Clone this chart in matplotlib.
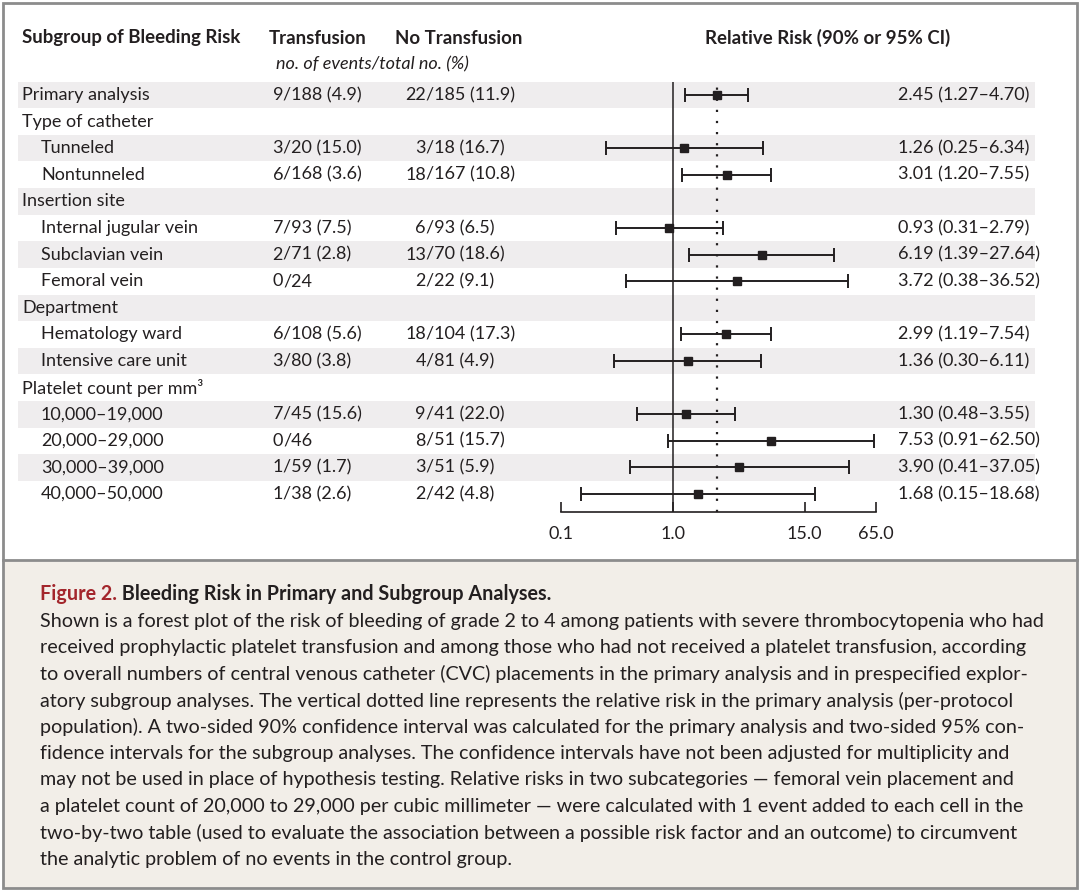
import numpy as np
import matplotlib.pyplot as plt
from matplotlib.patches import Rectangle

plt.rcParams['font.family'] = ['Lato', 'DejaVu Sans']

# rows of the forest plot
labels = ["Primary analysis", "Type of catheter", "Tunneled", "Nontunneled",
          "Insertion site", "Internal jugular vein", "Subclavian vein", "Femoral vein",
          "Department", "Hematology ward", "Intensive care unit",
          "Platelet count per mm³", "10,000–19,000", "20,000–29,000",
          "30,000–39,000", "40,000–50,000"]
indent = [0, 0, 1, 1, 0, 1, 1, 1, 0, 1, 1, 0, 1, 1, 1, 1]
transfusion = ["9/188 (4.9)", "", "3/20 (15.0)", "6/168 (3.6)", "", "7/93 (7.5)",
               "2/71 (2.8)", "0/24", "", "6/108 (5.6)", "3/80 (3.8)", "",
               "7/45 (15.6)", "0/46", "1/59 (1.7)", "1/38 (2.6)"]
no_transfusion = ["22/185 (11.9)", "", "3/18 (16.7)", "18/167 (10.8)", "", "6/93 (6.5)",
                  "13/70 (18.6)", "2/22 (9.1)", "", "18/104 (17.3)", "4/81 (4.9)", "",
                  "9/41 (22.0)", "8/51 (15.7)", "3/51 (5.9)", "2/42 (4.8)"]
nan = np.nan
rr = np.array([2.45, nan, 1.26, 3.01, nan, 0.93, 6.19, 3.72, nan, 2.99, 1.36, nan,
               1.30, 7.53, 3.90, 1.68])
lo = np.array([1.27, nan, 0.25, 1.20, nan, 0.31, 1.39, 0.38, nan, 1.19, 0.30, nan,
               0.48, 0.91, 0.41, 0.15])
hi = np.array([4.70, nan, 6.34, 7.55, nan, 2.79, 27.64, 36.52, nan, 7.54, 6.11, nan,
               3.55, 62.50, 37.05, 18.68])
ticks = [0.1, 1.0, 15.0, 65.0]
tick_labels = ["0.1", "1.0", "15.0", "65.0"]

caption_lines = [
    "Shown is a forest plot of the risk of bleeding of grade 2 to 4 among patients with severe thrombocytopenia who had",
    "received prophylactic platelet transfusion and among those who had not received a platelet transfusion, according",
    "to overall numbers of central venous catheter (CVC) placements in the primary analysis and in prespecified explor-",
    "atory subgroup analyses. The vertical dotted line represents the relative risk in the primary analysis (per-protocol",
    "population). A two-sided 90% confidence interval was calculated for the primary analysis and two-sided 95% con-",
    "fidence intervals for the subgroup analyses. The confidence intervals have not been adjusted for multiplicity and",
    "may not be used in place of hypothesis testing. Relative risks in two subcategories — femoral vein placement and",
    "a platelet count of 20,000 to 29,000 per cubic millimeter — were calculated with 1 event added to each cell in the",
    "two-by-two table (used to evaluate the association between a possible risk factor and an outcome) to circumvent",
    "the analytic problem of no events in the control group.",
]

ink = '#231f20'
fs = 13
fs_head = 13.4
fs_cap = 14.2
W, H = 1080, 893
fig = plt.figure(figsize=(W / 100, H / 100), dpi=100)

# page layer in pixel coordinates
bg = fig.add_axes([0, 0, 1, 1])
bg.set_xlim(0, W)
bg.set_ylim(H, 0)
bg.axis('off')

y0, dy = 95, 26.6
n = len(labels)
rows = np.arange(n)

bg.add_patch(Rectangle((3, 560), W - 6, 328, fc='#f2eee8', ec='none'))
bg.add_patch(Rectangle((3, 3), W - 6, 885, fill=False, ec='#8c8c8c', lw=2))
bg.plot([3, W - 3], [560, 560], color='#8c8c8c', lw=2)

for i in rows:
    y = y0 + dy * i
    if i % 2 == 0:
        bg.add_patch(Rectangle((18, y - dy / 2), 1017, dy, fc='#efedee', ec='none'))
    bg.text(22 + 19 * indent[i], y, labels[i], fontsize=fs, color=ink, va='center')
    if transfusion[i]:
        num, rest = transfusion[i].split('/', 1)
        bg.text(283, y, num, fontsize=fs, color=ink, va='center', ha='right')
        bg.text(283, y, '/' + rest, fontsize=fs, color=ink, va='center', ha='left')
    if no_transfusion[i]:
        num, rest = no_transfusion[i].split('/', 1)
        bg.text(426, y, num, fontsize=fs, color=ink, va='center', ha='right')
        bg.text(426, y, '/' + rest, fontsize=fs, color=ink, va='center', ha='left')
    if not np.isnan(rr[i]):
        bg.text(898, y, f"{rr[i]:.2f} ({lo[i]:.2f}–{hi[i]:.2f})", fontsize=fs,
                color=ink, va='center')

# headers
hy = 38
bg.text(22, hy, "Subgroup of Bleeding Risk", fontsize=fs_head, fontweight='bold', color=ink, va='center')
bg.text(269, hy, "Transfusion", fontsize=fs_head, fontweight='bold', color=ink, va='center')
bg.text(395, hy, "No Transfusion", fontsize=fs_head, fontweight='bold', color=ink, va='center')
bg.text(372, 64, "no. of events/total no. (%)", fontsize=fs, style='italic', color=ink,
        va='center', ha='center')
bg.text(828, hy, "Relative Risk (90% or 95% CI)", fontsize=fs_head, fontweight='bold', color=ink,
        va='center', ha='center')

# caption
t1 = bg.text(40, 594, "Figure 2.", fontsize=fs_cap, fontweight='bold', color='#a3262c', va='center')
bg.annotate(" Bleeding Risk in Primary and Subgroup Analyses.", xy=(1, 0.5), xycoords=t1,
            fontsize=fs_cap, fontweight='bold', color=ink, va='center')
for k, line in enumerate(caption_lines):
    bg.text(40, 621 + 26.5 * k, line, fontsize=fs_cap, color=ink, va='center')

# forest plot on a log axis
top_px, base_px = y0 - dy / 2, 512
x_left, x_right = 561, 876
ax = fig.add_axes([x_left / W, 1 - base_px / H, (x_right - x_left) / W, (base_px - top_px) / H])
ax.patch.set_visible(False)
ax.set_xscale('log')
ax.set_xlim(0.1, 65)
ax.set_ylim((base_px - y0) / dy, -0.5)
for s in ['top', 'left', 'right']:
    ax.spines[s].set_visible(False)
ax.spines['bottom'].set_color(ink)
ax.spines['bottom'].set_linewidth(1.2)
ax.set_yticks([])
ax.set_xticks(ticks)
ax.set_xticklabels(tick_labels)
ax.minorticks_off()
ax.tick_params(axis='x', direction='in', length=7, width=1.2, color=ink, labelsize=fs,
               labelcolor=ink, pad=10)

ax.axvline(1.0, color=ink, lw=1.1)
ax.axvline(rr[0], color=ink, lw=1.6, ls=(0, (1, 4)))
m = ~np.isnan(rr)
ax.errorbar(rr[m], rows[m], xerr=[rr[m] - lo[m], hi[m] - rr[m]], fmt='s', ms=5.5,
            color=ink, ecolor=ink, elinewidth=1.4, capsize=5, capthick=1.4, zorder=3)

fig.savefig('out.png', dpi=100)
